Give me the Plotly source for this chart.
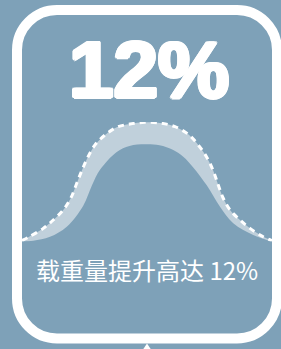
import plotly.graph_objects as go

W, H = 281, 349
BG = "#7ea1b8"
FILL = "#c0d0db"

# bell curve (upper, dashed edge) – x in % of width, y in % of peak height
x_upper = [0, 2.5, 8.5, 12.5, 16.5, 19.5, 21.9, 23.9, 26.1, 29.2, 33.2, 37.9, 43.2, 49.2,
           55.9, 61.2, 66.5, 70.5, 73.9, 76.5, 78.5, 80.5, 83.2, 87.2, 91.2, 96.5, 100]
y_upper = [0.8, 3.5, 11.0, 18.0, 26.4, 36.2, 48.7, 59.2, 69.6, 80.8, 89.1, 95.6, 98.3, 99.7,
           98.9, 96.1, 89.7, 80.8, 70.5, 59.2, 47.3, 36.2, 26.4, 18.0, 11.0, 4.0, 0.8]
# lower curve (inner edge of the light band)
x_lower = [0, 4.5, 11.2, 17.9, 24.5, 28.0, 31.2, 37.9, 43.0, 49.2, 55.0, 60.5, 64.5, 68.5,
           73.9, 79.2, 84.5, 92.5, 100]
y_lower = [0, 0.7, 4.0, 12.4, 30.0, 47.0, 60.0, 75.0, 80.0, 81.3, 80.5, 76.5, 71.0, 62.0,
           47.0, 29.0, 15.2, 5.4, 0]

headline = "12%"
caption = "载重量提升高达 12%"


def px(x):
    return x / W


def py(y):
    return 1 - y / H


def rounded_rect(L, T, R, B, r):
    k = 0.5523 * r
    pts = [
        ("M", [(L + r, T)]),
        ("L", [(R - r, T)]),
        ("C", [(R - r + k, T), (R, T + r - k), (R, T + r)]),
        ("L", [(R, B - r)]),
        ("C", [(R, B - r + k), (R - r + k, B), (R - r, B)]),
        ("L", [(L + r, B)]),
        ("C", [(L + r - k, B), (L, B - r + k), (L, B - r)]),
        ("L", [(L, T + r)]),
        ("C", [(L, T + r - k), (L + r - k, T), (L + r, T)]),
    ]
    s = ""
    for cmd, ps in pts:
        s += cmd + " " + " ".join(f"{px(a):.5f},{py(b):.5f}" for a, b in ps) + " "
    return s + "Z"


stroke = ", ".join(f"{dx}px {dy}px 0 white" for dx, dy in
                   [(2, 0), (-2, 0), (0, 1.5), (0, -1.5), (1.5, 1), (-1.5, -1), (1.5, -1),
                    (-1.5, 1)])

fig = go.Figure()
fig.add_trace(go.Scatter(x=x_lower, y=y_lower, mode="lines", line=dict(width=0, shape="spline"),
                         hoverinfo="skip"))
fig.add_trace(go.Scatter(x=x_upper, y=y_upper, mode="lines", line=dict(width=0, shape="spline"),
                         fill="tonexty", fillcolor=FILL, hoverinfo="skip"))
fig.add_trace(go.Scatter(x=x_upper, y=y_upper, mode="lines",
                         line=dict(width=3, color="white", dash="6px,5px", shape="spline"),
                         hoverinfo="skip"))

base_px, peak_px = 241.5, 122
fig.update_layout(
    width=W, height=H,
    margin=dict(l=0, r=0, t=0, b=0),
    paper_bgcolor=BG, plot_bgcolor=BG,
    showlegend=False,
    xaxis=dict(domain=[px(22), px(272)], range=[0, 100], visible=False, fixedrange=True),
    yaxis=dict(domain=[py(base_px), py(peak_px)], range=[0, 100], visible=False, fixedrange=True),
    shapes=[
        dict(type="path", xref="paper", yref="paper", path=rounded_rect(17, 10, 277, 338.5, 40),
             line=dict(color="white", width=10), fillcolor="rgba(0,0,0,0)", layer="above"),
        dict(type="path", xref="paper", yref="paper",
             path=f"M {px(143):.5f},{py(349.5):.5f} L {px(147):.5f},{py(343.5):.5f} L {px(151):.5f},{py(349.5):.5f} Z",
             line=dict(width=0), fillcolor="white"),
    ],
    annotations=[
        dict(text=headline, xref="paper", yref="paper", x=px(148.5), y=py(69.5), xanchor="center",
             yanchor="middle", showarrow=False,
             font=dict(family="Liberation Sans, Arial, sans-serif", size=80, color="white",
                       weight=900, shadow=stroke)),
        dict(text=caption, xref="paper", yref="paper", x=px(147), y=py(269), xanchor="center",
             yanchor="middle", showarrow=False,
             font=dict(family="Noto Sans CJK SC, sans-serif", size=24, color="white")),
    ],
)

fig.write_html("out.html", config=dict(displayModeBar=False),
               post_script="document.body.style.margin='0';document.body.style.background='#7ea1b8';")
